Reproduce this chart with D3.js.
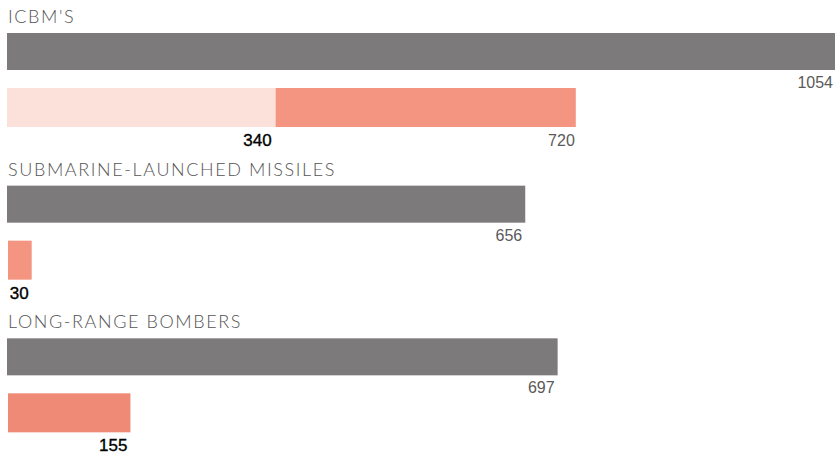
<!DOCTYPE html>
<html><head><meta charset="utf-8">
<script src="https://cdn.jsdelivr.net/npm/d3@7"></script>
<style>
html,body{margin:0;padding:0;background:#fff;}
svg{display:block;}
</style></head>
<body>
<svg id="c" width="835" height="455"></svg>
<script>
const categories = ["ICBM'S", "SUBMARINE-LAUNCHED MISSILES", "LONG-RANGE BOMBERS"];
const usValues = [1054, 656, 697];
const sovietValues = [720, 30, 155];
const sovietEarlier = [340, null, null];

const svg = d3.select("#c");
const x = d3.scaleLinear().domain([0, 1054]).range([7, 7 + 1054 * 0.79]);
const g = d3.scaleBand().domain(categories).range([0, 458]).padding(0);

const grey = "#7c7a7a", red = "#f49582", pink = "#fbe1d9", redB = "#ef8a76";
const labelFont = "'Liberation Sans', Arial, sans-serif";

categories.forEach((cat, i) => {
  const y0 = g(cat);
  const grp = svg.append("g");
  grp.append("text").attr("x", 8).attr("y", y0 + 23)
    .attr("font-family", "Lato, 'Open Sans', sans-serif").attr("font-weight", 300)
    .attr("font-size", 18).attr("fill", "#555").attr("letter-spacing", 1.6)
    .text(cat);
  // US bar
  grp.append("rect").attr("x", x(0)).attr("y", y0 + 33)
    .attr("width", x(usValues[i]) - x(0)).attr("height", 37).attr("fill", grey);
  grp.append("text").attr("x", Math.min(x(usValues[i]) - 3, 833)).attr("y", y0 + 88)
    .attr("text-anchor", "end").attr("font-family", labelFont)
    .attr("font-size", 16).attr("fill", "#5a5a5a").text(usValues[i]);
  // Soviet bar
  const sv = sovietValues[i], se = sovietEarlier[i];
  const black = sel => sel.attr("text-anchor", "end").attr("font-family", labelFont)
    .attr("font-size", 17).attr("fill", "#000").attr("stroke", "#000").attr("stroke-width", 0.35);
  if (se != null) {
    grp.append("rect").attr("x", x(0)).attr("y", y0 + 88)
      .attr("width", x(se) - x(0)).attr("height", 39).attr("fill", pink);
    grp.append("rect").attr("x", x(se)).attr("y", y0 + 88)
      .attr("width", x(sv) - x(se)).attr("height", 39).attr("fill", red);
    grp.append("text").attr("x", x(se) - 4).attr("y", y0 + 146).call(black).text(se);
    grp.append("text").attr("x", x(sv) - 1).attr("y", y0 + 146)
      .attr("text-anchor", "end").attr("font-family", labelFont)
      .attr("font-size", 16).attr("fill", "#5a5a5a").text(sv);
  } else {
    grp.append("rect").attr("x", x(0) + 1).attr("y", y0 + 88)
      .attr("width", x(sv) - x(0)).attr("height", 39).attr("fill", i === 2 ? redB : red);
    grp.append("text").attr("x", x(sv) - 2).attr("y", y0 + 146).call(black).text(sv);
  }
});
</script>
</body></html>
